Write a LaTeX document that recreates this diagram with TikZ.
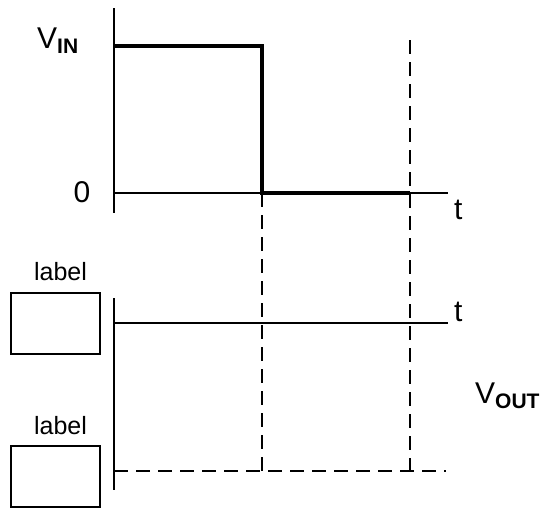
\documentclass[tikz,border=0pt]{standalone}
\usepackage{fontspec}
\setmainfont{Liberation Sans}
\begin{document}
\begin{tikzpicture}[x=1pt,y=-1pt,
  thin line/.style={line width=1.5pt},
  thick line/.style={line width=3.8pt},
  dash line/.style={line width=1.5pt, dash pattern=on 14pt off 8pt},
  lbl/.style={font=\fontsize{25}{27}\selectfont, inner sep=0pt, anchor=base},
  big/.style={font=\fontsize{30}{32}\selectfont, inner sep=0pt},
  box/.style={draw, line width=1.5pt, minimum width=89pt, minimum height=61pt, inner sep=0pt}]
\newcommand{\subtxt}[1]{\raisebox{-5pt}{\fontsize{21}{22}\selectfont\bfseries #1}}
\useasboundingbox (0,0) rectangle (543,509);
% coordinates
\coordinate (ytop) at (114,8);
\coordinate (ybot) at (114,213);
\coordinate (hi0) at (114,46);
\coordinate (hi1) at (262,46);
\coordinate (lo0) at (262,193);
\coordinate (lo1) at (410,193);
\coordinate (ax0) at (114,193);
\coordinate (ax1) at (448,193);
\coordinate (d1top) at (262,193);
\coordinate (d1bot) at (262,471);
\coordinate (d2top) at (410,40);
\coordinate (d2bot) at (410,471);
\coordinate (ly0) at (114,298);
\coordinate (ly1) at (114,490);
\coordinate (lt0) at (114,323);
\coordinate (lt1) at (448,323);
\coordinate (ld0) at (114,471);
\coordinate (ld1) at (446,471);
% dashed
\draw[dash line] (d2top) -- (d2bot);
\draw[dash line] (d1top) -- (d1bot);
\draw[dash line] (ld0) -- (ld1);
% axes
\draw[thin line] (ytop) -- (ybot);
\draw[thin line] (ax0) -- (ax1);
\draw[thin line] (ly0) -- (ly1);
\draw[thin line] (lt0) -- (lt1);
% waveform
\draw[thick line, line join=miter] (hi0) -- (hi1) -- (lo0) -- (lo1);
% labels
\node[big, anchor=base west] (vin) at (37,48) {V\subtxt{IN}};
\node[big, anchor=base] (zero) at (82,202) {0};
\node[big, anchor=base west] (t1) at (454,219) {t};
\node[big, anchor=base west] (t2) at (454,321) {t};
\node[big, anchor=base west] (vout) at (475,403) {V\subtxt{OUT}};
\node[lbl] (l1) at (60.5,280) {label};
\node[lbl] (l2) at (60.5,434) {label};
\node[box] (b1) at (55.5,323.5) {};
\node[box] (b2) at (55.5,476.5) {};
\end{tikzpicture}
\end{document}
